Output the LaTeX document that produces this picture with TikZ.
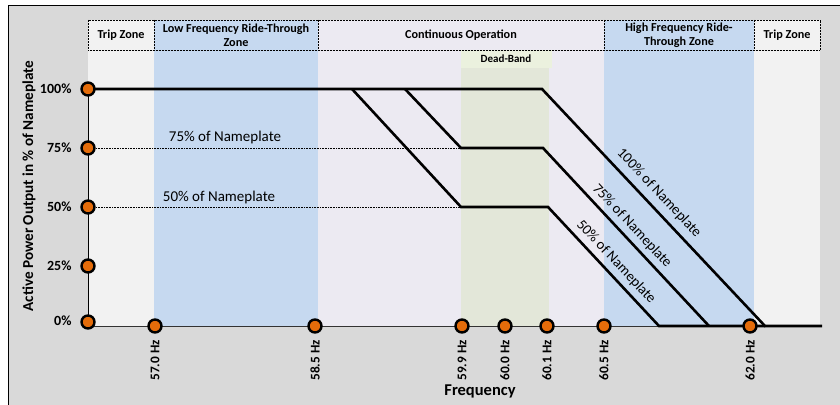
\documentclass[tikz,border=0pt]{standalone}
\usepackage{fontspec}
\setmainfont{Carlito}
\definecolor{bggray}{HTML}{D9D9D9}
\definecolor{tripc}{HTML}{F2F2F2}
\definecolor{ridec}{HTML}{C6D9F0}
\definecolor{contc}{HTML}{ECEAF2}
\definecolor{deadc}{HTML}{E3E7D9}
\definecolor{deadh}{HTML}{EBF1DE}
\definecolor{dotc}{HTML}{E46C0A}
\tikzset{
  dotnode/.style={circle,fill=dotc,draw=black,line width=2.4pt,minimum size=13pt,inner sep=0pt},
  hdr/.style={draw=black,densely dotted,line width=0.5pt},
  hdrtext/.style={font=\fontsize{12.2}{14}\selectfont\bfseries,align=center},
  curve/.style={line width=2.6pt,line join=miter},
  ytick/.style={font=\fontsize{14}{16}\selectfont\bfseries,anchor=east},
  xtick/.style={font=\fontsize{13.3}{15}\selectfont\bfseries,rotate=90,anchor=east,inner sep=2pt},
  namelbl/.style={font=\fontsize{15}{17}\selectfont},
  diaglbl/.style={font=\fontsize{14.5}{16}\selectfont,rotate=-46.8,inner sep=0pt},
  guide/.style={densely dotted,line width=0.6pt}
}
\begin{document}
\begin{tikzpicture}[x=1pt,y=-1pt]
\useasboundingbox (0,0) rectangle (840,404);
\begin{scope}
\clip (0,0) rectangle (840,404);
\draw[fill=bggray,line width=0.8pt] (8,5) rectangle (850,414);
\end{scope}
% zone fills
\fill[tripc] (88,50) rectangle (154,326);
\fill[ridec] (154,50) rectangle (318,326);
\fill[contc] (318,50) rectangle (604,326);
\fill[deadc] (461,68) rectangle (549,326);
\fill[deadh] (461,50) rectangle (552,68);
\fill[ridec] (604,50) rectangle (754,326);
\fill[tripc] (754,50) rectangle (820,326);
% header
\fill[tripc] (88,20) rectangle (154,50);
\fill[ridec] (154,20) rectangle (318,50);
\fill[contc] (318,20) rectangle (604,50);
\fill[ridec] (604,20) rectangle (754,50);
\fill[tripc] (754,20) rectangle (820,50);
\draw[hdr] (88,20) rectangle (820,50);
\foreach \xx in {154,318,604,754} \draw[hdr] (\xx,20) -- (\xx,50);
\node[hdrtext] (h1) at (121,35) {Trip Zone};
\node[hdrtext] (h2) at (236,35) {Low Frequency Ride-Through\\Zone};
\node[hdrtext] (h3) at (461,35) {Continuous Operation};
\node[hdrtext] (h4) at (679,35) {High Frequency Ride-\\Through Zone};
\node[hdrtext] (h5) at (787,35) {Trip Zone};
\node[font=\fontsize{11}{12}\selectfont\bfseries] (hdb) at (506,59) {Dead-Band};
% coordinates
\coordinate (y100) at (88,89);
\coordinate (y75) at (88,148);
\coordinate (y50) at (88,207);
\coordinate (y25) at (88,266);
\coordinate (y0) at (88,322);
\coordinate (a1) at (352,89);
\coordinate (a2) at (405,89);
\coordinate (a3) at (542,89);
\coordinate (b1) at (461,148);
\coordinate (b2) at (543,148);
\coordinate (c1) at (461,207);
\coordinate (c2) at (548,207);
\coordinate (e50) at (659,326);
\coordinate (e75) at (709,326);
\coordinate (e100) at (765,326);
\coordinate (xend) at (822,326);
\coordinate (x0) at (88,326);
% axes
\draw[line width=0.9pt,black!80] (x0) -- (e50);
\draw[line width=0.9pt] (y100) -- (x0);
% guides
\draw[guide] (y75) -- (b1);
\draw[guide] (y50) -- (c1);
% curves
\draw[curve] (y100) -- (a3) -- (e100) -- (xend);
\draw[curve] (a2) -- (b1) -- (b2) -- (e75);
\draw[curve] (a1) -- (c1) -- (c2) -- (e50) -- (e100);
% labels
\node[namelbl] (l75) at (225,138) {75\% of Nameplate};
\node[namelbl] (l50) at (219,197) {50\% of Nameplate};
\node[diaglbl] (d100) at (659,193) {100\% of Nameplate};
\node[diaglbl] (d75) at (632,226) {75\% of Nameplate};
\node[diaglbl] (d50) at (616,262) {50\% of Nameplate};
% dots
\node[dotnode] (p100) at (y100) {};
\node[dotnode] (p75) at (y75) {};
\node[dotnode] (p50) at (y50) {};
\node[dotnode] (p25) at (y25) {};
\node[dotnode] (p0) at (y0) {};
\node[dotnode] (f570) at (155,326) {};
\node[dotnode] (f585) at (315,326) {};
\node[dotnode] (f599) at (462,326) {};
\node[dotnode] (f600) at (505,326) {};
\node[dotnode] (f601) at (547,326) {};
\node[dotnode] (f605) at (604,326) {};
\node[dotnode] (f620) at (750,326) {};
% y ticks
\node[ytick] (t100) at (75,89) {100\%};
\node[ytick] (t75) at (75,148) {75\%};
\node[ytick] (t50) at (75,207) {50\%};
\node[ytick] (t25) at (75,266) {25\%};
\node[ytick] (t0) at (75,321) {0\%};
% x ticks
\node[xtick] (u570) at (155,338) {57.0 Hz};
\node[xtick] (u585) at (315,338) {58.5 Hz};
\node[xtick] (u599) at (462,338) {59.9 Hz};
\node[xtick] (u600) at (505,338) {60.0 Hz};
\node[xtick] (u601) at (547,338) {60.1 Hz};
\node[xtick] (u605) at (604,338) {60.5 Hz};
\node[xtick] (u620) at (750,338) {62.0 Hz};
% axis titles
\node[font=\fontsize{16.5}{18}\selectfont\bfseries] (xt) at (480,391) {Frequency};
\node[font=\fontsize{15.2}{17}\selectfont\bfseries,rotate=90] (yt) at (29,186) {Active Power Output in \% of Nameplate};
\end{tikzpicture}
\end{document}
